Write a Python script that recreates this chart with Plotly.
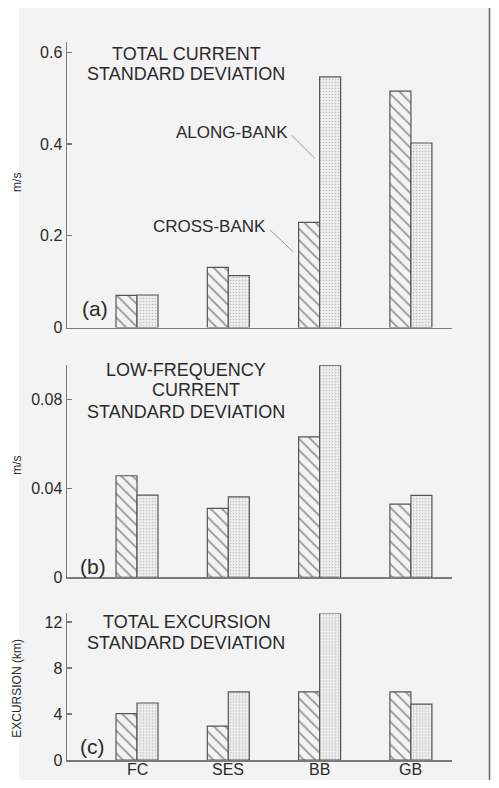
import plotly.graph_objects as go

# ---------------- data ----------------
categories = ["FC", "SES", "BB", "GB"]

cross_total = [0.070, 0.131, 0.229, 0.515]
along_total = [0.071, 0.113, 0.546, 0.402]

cross_low = [0.0458, 0.0311, 0.0633, 0.0330]
along_low = [0.0371, 0.0363, 0.0955, 0.0370]

cross_exc = [4.04, 2.95, 5.93, 5.93]
along_exc = [4.96, 5.93, 12.75, 4.86]

ticks_a = [0, 0.2, 0.4, 0.6]
ticklabels_a = ["0", "0.2", "0.4", "0.6"]
ticks_b = [0, 0.04, 0.08]
ticklabels_b = ["0", "0.04", "0.08"]
ticks_c = [0, 4, 8, 12]
ticklabels_c = ["0", "4", "8", "12"]

# ---------------- geometry helpers (reference pixel -> paper fraction) ----------------
W, H = 483, 772            # page body margin is 8px, figure sits at (8, 8)
OFFX, OFFY = 8, 8
SHIFT = 3                  # move content up a little so bottom labels fit
L, R = 59, 39
T = 45 - OFFY - SHIFT
B = H - (763.3 - OFFY - SHIFT)
PW, PH = W - L - R, H - T - B


def fx(px):
    return (px - OFFX - L) / PW


def fy(py):
    return (H - B - (py - OFFY - SHIFT)) / PH


BG = "#f3f3f3"
AX = "#7a7a7a"
TXT = "#2a2a2a"
FONT = "Liberation Sans, Arial, sans-serif"

hatch = dict(shape="\\", size=8, solidity=0.21, fgcolor="#333333", bgcolor=BG)
dots = dict(shape=".", size=3, solidity=0.22, fgcolor="#8a8a8a", bgcolor="#eeeeee")
outline = dict(color="#555555", width=1.2)

fig = go.Figure()

panels = [
    ("x3", "y3", cross_total, along_total),
    ("x2", "y2", cross_low, along_low),
    ("x", "y", cross_exc, along_exc),
]
for xa, ya, cr, al in panels:
    fig.add_trace(go.Bar(x=categories, y=cr, xaxis=xa, yaxis=ya, name="CROSS-BANK",
                         marker=dict(color=BG, pattern=hatch, line=outline),
                         showlegend=False, hoverinfo="skip"))
    fig.add_trace(go.Bar(x=categories, y=al, xaxis=xa, yaxis=ya, name="ALONG-BANK",
                         marker=dict(color="#eeeeee", pattern=dots, line=outline),
                         showlegend=False, hoverinfo="skip"))

xcommon = dict(domain=[0, 1], range=[-0.767, 3.45], type="category",
               categoryorder="array", categoryarray=categories,
               showline=True, linecolor=AX, linewidth=1.5, ticks="",
               showgrid=False, zeroline=False, fixedrange=True, automargin=False,
               showticklabels=False)
ycommon = dict(showline=True, linecolor=AX, linewidth=1.5, ticks="inside",
               ticklen=5, tickcolor=AX, tickwidth=1.2, showgrid=False,
               zeroline=False, fixedrange=True, automargin=False,
               tickfont=dict(size=16, color=TXT, family=FONT))

dom_c = [0, fy(616.7)]
dom_b = [fy(580.7), fy(368.3)]
dom_a = [fy(330.7), 1]

fig.update_layout(
    xaxis=dict(xcommon, anchor="y"),
    xaxis2=dict(xcommon, anchor="y2"),
    xaxis3=dict(xcommon, anchor="y3"),
    yaxis=dict(ycommon, anchor="x", domain=dom_c, range=[0, 12.75],
               tickvals=ticks_c, ticktext=ticklabels_c),
    yaxis2=dict(ycommon, anchor="x2", domain=dom_b, range=[0, 0.0956],
                tickvals=ticks_b, ticktext=ticklabels_b),
    yaxis3=dict(ycommon, anchor="x3", domain=dom_a, range=[0, 0.622],
                tickvals=ticks_a, ticktext=ticklabels_a),
    barmode="group", bargap=0.54, bargroupgap=0,
    width=W, height=H,
    margin=dict(l=L, r=R, t=T, b=B, pad=0, autoexpand=False),
    paper_bgcolor=BG, plot_bgcolor=BG,
    font=dict(family=FONT, color=TXT),
)

annots = []


def txt(text, px, py, size=18, **kw):
    annots.append(dict(text=text, x=fx(px), y=fy(py), xref="paper", yref="paper",
                       showarrow=False, font=dict(size=size, color=TXT, family=FONT),
                       xanchor=kw.pop("xanchor", "center"), yanchor=kw.pop("yanchor", "middle"), **kw))


# category labels under the bottom panel (positioned on the category axis)
for c in categories:
    annots.append(dict(text=c, x=c, xref="x", y=fy(773), yref="paper",
                       showarrow=False, xanchor="center", yanchor="middle",
                       borderpad=0,
                       font=dict(size=16, color=TXT, family=FONT)))

# panel titles
txt("TOTAL CURRENT", 186, 57)
txt("STANDARD DEVIATION", 186, 77)
txt("LOW-FREQUENCY", 186, 373)
txt("CURRENT", 196, 393.5)
txt("STANDARD DEVIATION", 186, 415)
txt("TOTAL EXCURSION", 187, 625)
txt("STANDARD DEVIATION", 186, 646.7)

# panel letters
txt("(a)", 95, 312, size=21)
txt("(b)", 93, 570, size=21)
txt("(c)", 92, 750, size=21)

# callouts
txt("ALONG-BANK", 232, 136, size=17)
txt("CROSS-BANK", 209, 230, size=17)

# y-axis titles at the left edge
txt("m/s", 17, 186, size=12, textangle=-90)
txt("m/s", 17, 469, size=12, textangle=-90)
txt("EXCURSION (km)", 17, 692, size=12, textangle=-90)

fig.update_layout(annotations=annots)

shapes = [
    dict(type="rect", xref="paper", yref="paper", x0=fx(0), y0=fy(-20),
         x1=fx(19), y1=fy(800), line=dict(width=0), fillcolor="#ffffff",
         layer="below"),
    dict(type="line", xref="paper", yref="paper", x0=fx(291.7), y0=fy(138.3),
         x1=fx(315), y1=fy(161.7), line=dict(color="#9a9a9a", width=1)),
    dict(type="line", xref="paper", yref="paper", x0=fx(270), y0=fy(233),
         x1=fx(293.3), y1=fy(255), line=dict(color="#9a9a9a", width=1)),
    dict(type="line", xref="paper", yref="paper", x0=fx(489.5), y0=fy(0),
         x1=fx(489.5), y1=fy(800), line=dict(color="#6a6a6a", width=1.5)),
]
fig.update_layout(shapes=shapes)

fig.write_html("out.html", config={"displayModeBar": False, "staticPlot": True})
